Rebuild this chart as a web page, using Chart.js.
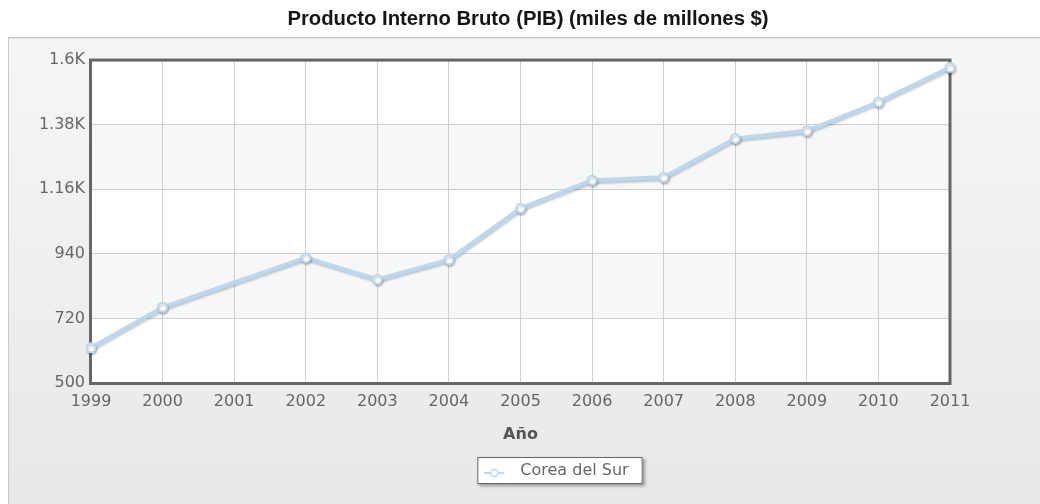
<!DOCTYPE html>
<html>
<head>
<meta charset="utf-8">
<script src="https://cdn.jsdelivr.net/npm/chart.js@4/dist/chart.umd.min.js"></script>
<style>
  html, body { margin: 0; padding: 0; background: #fff; }
  #wrap { width: 1040px; height: 504px; position: relative; }
</style>
</head>
<body>
<div id="wrap"><canvas id="grafico" width="1040" height="504"></canvas></div>
<script>
const titulo = "Producto Interno Bruto (PIB) (miles de millones $)";
const ejeX = "Año";
const serieNombre = "Corea del Sur";
const anios = ["1999", "2000", "2001", "2002", "2003", "2004", "2005", "2006", "2007", "2008", "2009", "2010", "2011"];
// 2001 no tiene marcador en la imagen
const pib = [620, 758, null, 927, 853, 920, 1095, 1191, 1201, 1333, 1359, 1457, 1575];
const yTicks = [500, 720, 940, 1160, 1380, 1600];
const yTickLabels = ["500", "720", "940", "1.16K", "1.38K", "1.6K"];

const azul = "rgb(184, 217, 240)";

// icono de la leyenda (linea con circulo)
const icono = document.createElement("canvas");
icono.width = 36;
icono.height = 14;
const ic = icono.getContext("2d");
ic.strokeStyle = azul;
ic.lineWidth = 2;
ic.beginPath(); ic.moveTo(8, 9); ic.lineTo(28, 9); ic.stroke();
ic.beginPath(); ic.arc(18, 9, 3.5, 0, Math.PI * 2);
ic.fillStyle = "#fff"; ic.fill(); ic.lineWidth = 1.5; ic.stroke();

const fondo = {
  id: "fondo",
  afterLayout(chart) {
    // centrar titulo y leyenda como en la imagen
    chart.titleBlock.left = 0; chart.titleBlock.right = 1056;
    chart.legend.left = 0; chart.legend.right = 1105;
  },
  beforeDraw(chart) {
    const ctx = chart.ctx;
    const a = chart.chartArea;
    ctx.save();
    const g = ctx.createLinearGradient(0, 37, 0, 504);
    g.addColorStop(0, "#f5f6f6");
    g.addColorStop(1, "#e8e8e8");
    ctx.fillStyle = g;
    ctx.fillRect(8, 37, 1040, 480);
    ctx.strokeStyle = "#c9c9c9";
    ctx.lineWidth = 1;
    ctx.strokeRect(8.5, 37.5, 1040, 480);
    ctx.strokeStyle = "#e2e2e2";
    ctx.beginPath(); ctx.moveTo(9, 38.5); ctx.lineTo(1040, 38.5); ctx.stroke();

    // bandas alternas
    const y = chart.scales.y;
    for (let i = 0; i < yTicks.length - 1; i++) {
      const y0 = y.getPixelForValue(yTicks[i]);
      const y1 = y.getPixelForValue(yTicks[i + 1]);
      ctx.fillStyle = i % 2 === 0 ? "#ffffff" : "#f6f7f7";
      ctx.fillRect(a.left, y1, a.right - a.left, y0 - y1);
    }

    // caja de la leyenda
    const hb = chart.legend.legendHitBoxes[0];
    if (hb) {
      const bx = hb.left + 1, by = hb.top - 6;
      const bw = hb.width + 13, bh = hb.height + 11;
      ctx.shadowColor = "rgba(0,0,0,0.35)";
      ctx.shadowOffsetX = 2;
      ctx.shadowOffsetY = 2;
      ctx.shadowBlur = 3;
      ctx.fillStyle = "#fff";
      ctx.fillRect(bx, by, bw, bh);
      ctx.shadowColor = "transparent";
      ctx.strokeStyle = "#666";
      ctx.lineWidth = 1;
      ctx.strokeRect(bx + 0.5, by + 0.5, bw - 1, bh - 1);
    }
    ctx.restore();
  },
  beforeDatasetsDraw(chart) {
    const ctx = chart.ctx;
    const a = chart.chartArea;
    ctx.save();
    ctx.strokeStyle = "#666";
    ctx.lineWidth = 3;
    ctx.strokeRect(a.left - 0.5, a.top, a.right - a.left + 0.5, a.bottom - a.top + 0.5);
    ctx.restore();
  },
  beforeDatasetDraw(chart) {
    const ctx = chart.ctx;
    ctx.save();
    ctx.shadowColor = "rgba(0,0,0,0.2)";
    ctx.shadowOffsetX = 1;
    ctx.shadowOffsetY = 2;
    ctx.shadowBlur = 2;
  },
  afterDatasetDraw(chart) {
    chart.ctx.restore();
  }
};

const canvas = document.getElementById("grafico");
new Chart(canvas, {
  type: "line",
  data: {
    labels: anios,
    datasets: [{
      label: serieNombre,
      data: pib,
      borderColor: azul,
      borderWidth: 4,
      pointRadius: 4.5,
      pointBorderWidth: 2,
      pointBackgroundColor: "#fff",
      pointBorderColor: azul,
      spanGaps: true,
      clip: false,
      tension: 0
    }]
  },
  options: {
    responsive: false,
    animation: false,
    devicePixelRatio: 1,
    layout: { padding: { left: 0, right: 90, top: 0, bottom: 15 } },
    plugins: {
      title: {
        display: true,
        text: titulo,
        color: "#151515",
        font: { family: "Liberation Sans", size: 20.3, weight: "bold" },
        padding: { top: 7.5, bottom: 28.2 }
      },
      legend: {
        position: "bottom",
        labels: {
          usePointStyle: true,
          pointStyle: icono,
          pointStyleWidth: 36,
          padding: 10,
          color: "#666",
          font: { family: "DejaVu Sans", size: 16 }
        }
      },
      tooltip: { enabled: false }
    },
    scales: {
      x: {
        grid: { color: "#cfcfcf", lineWidth: 1, drawTicks: false },
        border: { display: false },
        ticks: { color: "#666", font: { family: "DejaVu Sans", size: 16 }, padding: 9, maxRotation: 0, autoSkip: false },
        title: {
          display: true,
          text: ejeX,
          color: "#555",
          font: { family: "DejaVu Sans", size: 16, weight: "bold" },
          padding: { top: 4, bottom: 9 }
        },
        afterFit(scale) { scale.height = 70; }
      },
      y: {
        min: 500,
        max: 1600,
        grid: { color: "#cfcfcf", lineWidth: 1, drawTicks: false },
        border: { display: false },
        afterBuildTicks(scale) { scale.ticks = yTicks.map(v => ({ value: v })); },
        ticks: {
          color: "#666",
          font: { family: "DejaVu Sans", size: 16 },
          padding: 6,
          callback: (v, i) => yTickLabels[i]
        },
        afterFit(scale) { scale.width = 91; }
      }
    }
  },
  plugins: [fondo]
});
</script>
</body>
</html>
